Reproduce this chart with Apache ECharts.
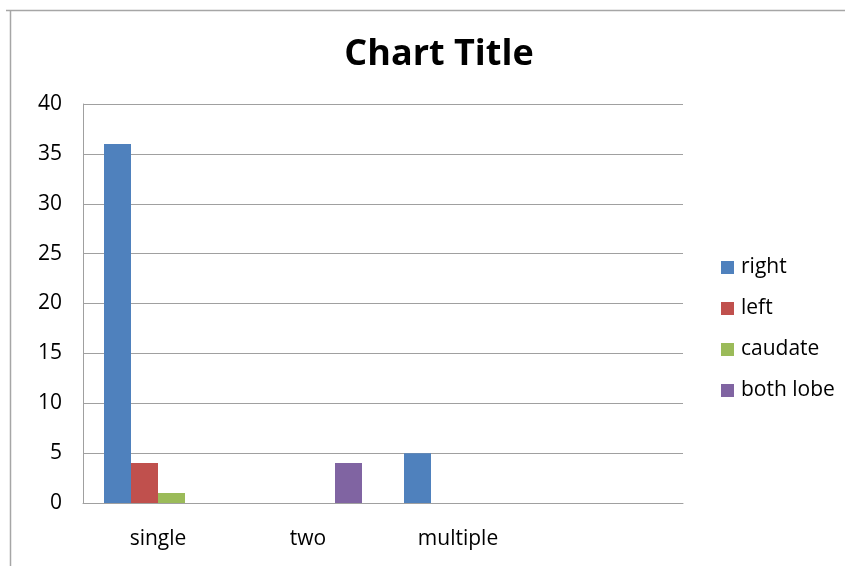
<!DOCTYPE html>
<html>
<head>
<meta charset="utf-8">
<script src="https://cdn.jsdelivr.net/npm/echarts@6/dist/echarts.min.js"></script>
<style>html,body{margin:0;padding:0;background:#fff;}#c{width:845px;height:566px;}</style>
</head>
<body>
<div id="c"></div>
<script>
const categories = ['single', 'two', 'multiple', ''];
const seriesNames = ['right', 'left', 'caudate', 'both lobe'];
const rightValues = [36, 0, 5, null];
const leftValues = [4, 0, 0, null];
const caudateValues = [1, 0, 0, null];
const bothLobeValues = [0, 4, 0, null];
const yTicks = [0, 5, 10, 15, 20, 25, 30, 35, 40];
const colors = ['#4F81BD', '#C0504D', '#9BBB59', '#8064A2'];

const font = '"Open Sans", sans-serif';
const allValues = [rightValues, leftValues, caudateValues, bothLobeValues];

const chart = echarts.init(document.getElementById('c'), null, {renderer: 'canvas'});
chart.setOption({
  animation: false,
  backgroundColor: '#fff',
  title: {
    text: 'Chart Title', left: 434, top: 32, textAlign: 'center',
    textStyle: {fontFamily: font, fontWeight: 'bold', fontSize: 36, color: '#000'}
  },
  legend: {
    orient: 'vertical', left: 716, top: 252, itemGap: 20,
    itemWidth: 13, itemHeight: 13, icon: 'rect',
    data: seriesNames,
    textStyle: {fontFamily: font, fontSize: 21, color: '#000', padding: [0, 0, 0, 2]}
  },
  grid: {left: 83, right: 162, top: 104, bottom: 63, containLabel: false},
  xAxis: {
    type: 'category', data: categories,
    axisLine: {lineStyle: {color: '#A0A0A0', width: 1}},
    axisTick: {show: false},
    axisLabel: {fontFamily: font, fontSize: 21, color: '#000', margin: 26}
  },
  yAxis: {
    type: 'value', min: yTicks[0], max: yTicks[yTicks.length - 1], interval: 5,
    axisLine: {show: true, lineStyle: {color: '#A0A0A0', width: 1}},
    axisTick: {show: false},
    splitLine: {lineStyle: {color: '#A0A0A0', width: 1}},
    axisLabel: {fontFamily: font, fontSize: 21, color: '#000', margin: 21, padding: [3, 0, 0, 0]}
  },
  series: seriesNames.map((n, i) => ({
    name: n, type: 'bar', data: allValues[i],
    barWidth: 27, barGap: '0%', barCategoryGap: '28%',
    itemStyle: {color: colors[i]}
  })),
  graphic: [
    {type: 'line', shape: {x1: 6, y1: 10.5, x2: 845, y2: 10.5}, style: {stroke: '#A6A6A6', lineWidth: 1.5}},
    {type: 'line', shape: {x1: 10.5, y1: 10, x2: 10.5, y2: 566}, style: {stroke: '#A6A6A6', lineWidth: 1.5}}
  ]
});
</script>
</body>
</html>
